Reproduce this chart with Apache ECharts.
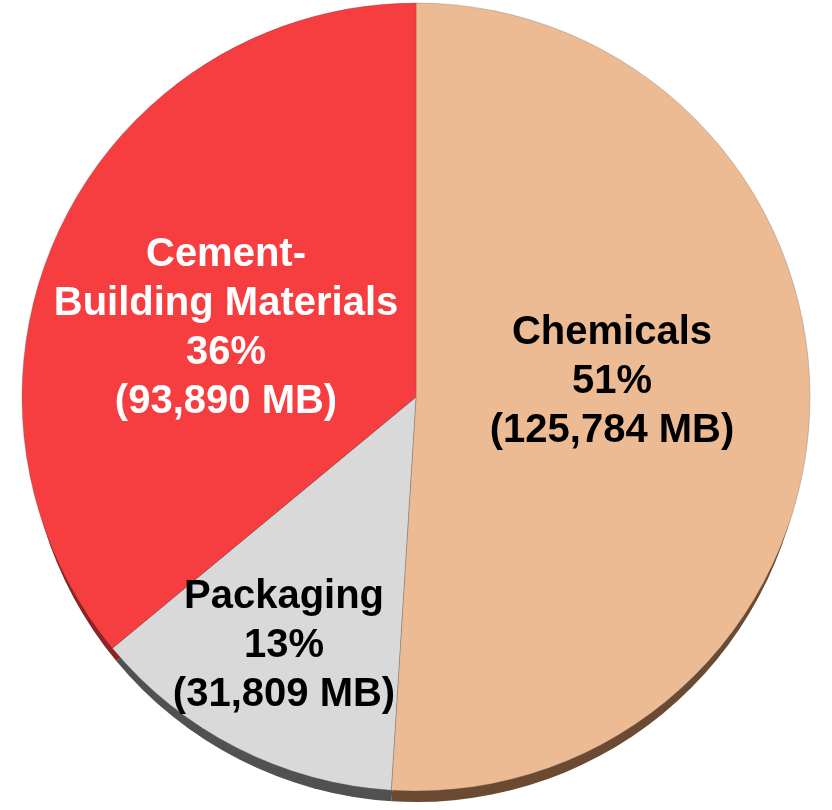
<!DOCTYPE html>
<html>
<head>
<meta charset="utf-8">
<script src="https://cdn.jsdelivr.net/npm/echarts@6/dist/echarts.min.js"></script>
<style>
  html, body { margin: 0; padding: 0; background: #ffffff; }
  #chart { width: 832px; height: 810px; }
</style>
</head>
<body>
<div id="chart"></div>
<script>
// Market segments, share of total (%) and volume (MB)
const categories = ['Chemicals', 'Packaging', 'Cement-\nBuilding Materials'];
const shares = [51, 13, 36];
const volumes = ['125,784', '31,809', '93,890'];

// Face colours and the darker side-wall colours of the disc
const faceColors = ['#EDBB93', '#D9D9D9', '#F63D40'];
const wallColors = ['#6B4A31', '#505153', '#8E2224'];
const textColors = ['#000000', '#000000', '#ffffff'];
// Label block centres in pixels
const labelAnchors = [[612, 382], [284, 646], [226, 328]];

const faceCenter = [416, 397];
const faceRadius = 394;

const faceData = categories.map((name, i) => ({
  name: name,
  value: shares[i],
  itemStyle: { color: faceColors[i] },
  label: {
    color: textColors[i],
    formatter: name + '\n' + shares[i] + '%\n(' + volumes[i] + ' MB)'
  }
}));

const wallData = categories.map((name, i) => ({
  name: name,
  value: shares[i],
  itemStyle: { color: wallColors[i] }
}));

const chart = echarts.init(document.getElementById('chart'), null, { renderer: 'canvas' });
chart.setOption({
  animation: false,
  backgroundColor: '#ffffff',
  series: [
    {
      // side wall, drawn beneath the face and shifted down
      type: 'pie',
      z: 1,
      center: [faceCenter[0], faceCenter[1] + 16],
      radius: faceRadius - 5,
      startAngle: 90,
      clockwise: true,
      silent: true,
      label: { show: false },
      labelLine: { show: false },
      itemStyle: { borderWidth: 0 },
      data: wallData
    },
    {
      type: 'pie',
      z: 2,
      center: faceCenter,
      radius: faceRadius,
      startAngle: 90,
      clockwise: true,
      silent: true,
      itemStyle: { borderColor: 'rgba(90,90,90,0.3)', borderWidth: 1 },
      label: {
        show: true,
        position: 'inside',
        fontFamily: '"Liberation Sans", Arial, sans-serif',
        fontWeight: 'bold',
        fontSize: 40,
        lineHeight: 49,
        align: 'center'
      },
      labelLine: { show: false },
      labelLayout: function (params) {
        const a = labelAnchors[params.dataIndex];
        return { x: a[0], y: a[1], align: 'center', verticalAlign: 'middle' };
      },
      data: faceData
    }
  ]
});
</script>
</body>
</html>
